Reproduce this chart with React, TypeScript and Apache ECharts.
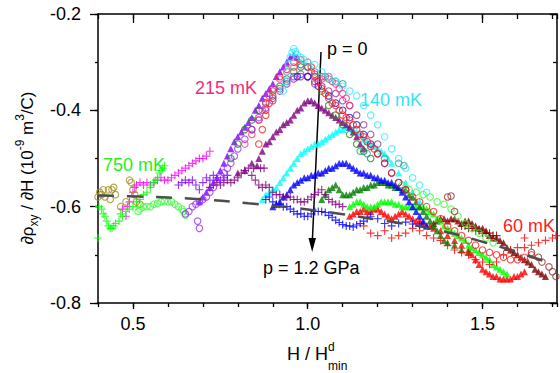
import React, { useEffect, useRef } from "react";
import * as echarts from "echarts";

// ---------- data (x = H/H^d_min, y = dρxy/dH in 1e-9 m^3/C) ----------
const xMajorTicks = [0.5, 1.0, 1.5];
const yMajorTicks = [-0.8, -0.6, -0.4, -0.2];

// filled triangles (pressure series)
const triViolet = [[0.69,-0.59],[0.70,-0.58],[0.71,-0.57],[0.72,-0.56],[0.73,-0.55],[0.74,-0.54],[0.75,-0.525],[0.76,-0.51],[0.77,-0.495],[0.78,-0.48],[0.79,-0.465],[0.80,-0.455],[0.81,-0.445],[0.82,-0.435],[0.83,-0.425],[0.84,-0.415],[0.85,-0.40],[0.86,-0.39],[0.87,-0.375],[0.88,-0.365],[0.89,-0.355],[0.90,-0.345],[0.91,-0.33],[0.92,-0.32],[0.93,-0.31],[0.94,-0.30],[0.95,-0.29],[0.96,-0.285],[0.97,-0.29]];
const triPurple = [[0.80,-0.53],[0.82,-0.525],[0.84,-0.51],[0.855,-0.515],[0.86,-0.50],[0.87,-0.485],[0.88,-0.47],[0.89,-0.465],[0.90,-0.455],[0.91,-0.445],[0.92,-0.44],[0.93,-0.43],[0.94,-0.425],[0.95,-0.42],[0.96,-0.41],[0.97,-0.40],[0.98,-0.395],[0.99,-0.385],[1.00,-0.38],[1.01,-0.38],[1.02,-0.385],[1.03,-0.39],[1.04,-0.395],[1.05,-0.40],[1.06,-0.405],[1.07,-0.41],[1.08,-0.415],[1.09,-0.42],[1.10,-0.425],[1.11,-0.43],[1.12,-0.435],[1.13,-0.445],[1.14,-0.455],[1.15,-0.47],[1.16,-0.48]];
const triCyan = [[0.87,-0.585],[0.88,-0.575],[0.89,-0.57],[0.90,-0.565],[0.91,-0.56],[0.92,-0.55],[0.93,-0.54],[0.94,-0.53],[0.95,-0.52],[0.96,-0.51],[0.97,-0.50],[0.98,-0.49],[0.99,-0.485],[1.00,-0.48],[1.01,-0.475],[1.02,-0.47],[1.03,-0.47],[1.04,-0.465],[1.05,-0.46],[1.06,-0.455],[1.07,-0.45],[1.08,-0.445],[1.09,-0.44],[1.10,-0.44],[1.11,-0.435],[1.12,-0.435],[1.13,-0.44],[1.14,-0.445],[1.15,-0.45],[1.16,-0.46],[1.17,-0.465],[1.18,-0.47],[1.19,-0.475],[1.20,-0.48],[1.21,-0.485],[1.22,-0.49],[1.23,-0.50],[1.24,-0.51],[1.26,-0.53],[1.28,-0.55],[1.30,-0.57],[1.32,-0.59]];
const triBlue = [[0.90,-0.60],[0.91,-0.595],[0.92,-0.59],[0.93,-0.58],[0.94,-0.575],[0.95,-0.565],[0.96,-0.555],[0.97,-0.55],[0.98,-0.545],[0.99,-0.54],[1.00,-0.54],[1.01,-0.535],[1.02,-0.535],[1.03,-0.53],[1.04,-0.53],[1.05,-0.525],[1.06,-0.52],[1.07,-0.52],[1.08,-0.515],[1.09,-0.51],[1.10,-0.51],[1.11,-0.51],[1.12,-0.515],[1.13,-0.52],[1.14,-0.525],[1.15,-0.53],[1.16,-0.53],[1.17,-0.535],[1.18,-0.535],[1.19,-0.54],[1.20,-0.54],[1.21,-0.545],[1.22,-0.545],[1.23,-0.55],[1.24,-0.55],[1.25,-0.555],[1.26,-0.56],[1.27,-0.57],[1.28,-0.58],[1.29,-0.59],[1.30,-0.60],[1.31,-0.61],[1.32,-0.62],[1.33,-0.63],[1.34,-0.64]];
const triDkGreen = [[1.04,-0.585],[1.05,-0.575],[1.06,-0.565],[1.07,-0.56],[1.08,-0.555],[1.09,-0.565],[1.10,-0.575],[1.11,-0.575],[1.12,-0.575],[1.13,-0.57],[1.14,-0.565],[1.15,-0.565],[1.16,-0.56],[1.17,-0.56],[1.18,-0.555],[1.19,-0.555],[1.20,-0.55],[1.21,-0.55],[1.22,-0.55],[1.23,-0.555],[1.24,-0.555],[1.25,-0.56],[1.26,-0.56],[1.27,-0.565],[1.28,-0.565],[1.29,-0.575],[1.30,-0.58],[1.31,-0.59],[1.32,-0.60],[1.33,-0.61],[1.34,-0.62],[1.35,-0.63],[1.36,-0.64],[1.37,-0.65],[1.38,-0.66],[1.39,-0.67],[1.40,-0.675],[1.42,-0.68],[1.44,-0.69],[1.46,-0.695]];
const triLime = [[1.12,-0.60],[1.13,-0.595],[1.14,-0.59],[1.15,-0.59],[1.16,-0.595],[1.17,-0.60],[1.18,-0.60],[1.19,-0.60],[1.20,-0.595],[1.21,-0.59],[1.22,-0.59],[1.23,-0.59],[1.24,-0.59],[1.25,-0.595],[1.26,-0.595],[1.27,-0.60],[1.28,-0.60],[1.29,-0.60],[1.30,-0.60],[1.31,-0.60],[1.32,-0.60],[1.33,-0.60],[1.34,-0.605],[1.35,-0.61],[1.36,-0.615],[1.37,-0.625],[1.38,-0.63],[1.39,-0.64],[1.40,-0.645],[1.41,-0.65],[1.42,-0.655],[1.43,-0.66],[1.44,-0.665],[1.45,-0.67],[1.46,-0.68],[1.47,-0.685],[1.48,-0.69],[1.49,-0.695],[1.50,-0.70],[1.51,-0.705],[1.52,-0.71],[1.53,-0.72],[1.54,-0.725],[1.55,-0.73],[1.56,-0.735],[1.57,-0.74]];
const triRed = [[1.12,-0.62],[1.13,-0.615],[1.14,-0.61],[1.15,-0.61],[1.16,-0.605],[1.17,-0.61],[1.18,-0.61],[1.19,-0.605],[1.20,-0.605],[1.21,-0.61],[1.22,-0.615],[1.23,-0.62],[1.24,-0.625],[1.25,-0.62],[1.26,-0.615],[1.27,-0.61],[1.28,-0.615],[1.29,-0.62],[1.30,-0.625],[1.31,-0.63],[1.32,-0.63],[1.33,-0.635],[1.34,-0.64],[1.35,-0.64],[1.36,-0.645],[1.38,-0.65],[1.40,-0.66],[1.42,-0.67],[1.44,-0.68],[1.46,-0.69],[1.47,-0.70],[1.48,-0.71],[1.49,-0.72],[1.50,-0.73],[1.51,-0.735],[1.52,-0.74],[1.53,-0.745],[1.54,-0.745],[1.55,-0.75],[1.56,-0.75],[1.57,-0.75],[1.58,-0.75],[1.59,-0.745],[1.60,-0.745],[1.61,-0.74],[1.62,-0.735]];
const triDkRed = [[1.36,-0.635],[1.37,-0.63],[1.38,-0.625],[1.39,-0.625],[1.40,-0.63],[1.41,-0.625],[1.42,-0.625],[1.43,-0.63],[1.44,-0.635],[1.45,-0.63],[1.46,-0.63],[1.47,-0.635],[1.48,-0.64],[1.49,-0.645],[1.50,-0.645],[1.51,-0.65],[1.52,-0.66],[1.53,-0.665],[1.54,-0.665],[1.55,-0.67],[1.56,-0.675],[1.57,-0.685],[1.58,-0.69],[1.59,-0.695],[1.60,-0.70],[1.61,-0.705],[1.62,-0.71],[1.63,-0.715],[1.64,-0.72],[1.65,-0.73],[1.66,-0.735],[1.67,-0.74],[1.68,-0.745]];

// crosses
const plusLime = [[0.40,-0.665],[0.403,-0.60],[0.41,-0.605],[0.415,-0.615],[0.42,-0.62],[0.425,-0.63],[0.43,-0.64],[0.435,-0.645],[0.44,-0.645],[0.445,-0.64],[0.45,-0.635],[0.46,-0.63],[0.465,-0.615],[0.47,-0.62],[0.48,-0.61],[0.49,-0.605],[0.50,-0.60],[0.51,-0.59],[0.52,-0.585],[0.53,-0.575],[0.54,-0.57],[0.55,-0.56],[0.56,-0.55],[0.565,-0.545],[0.57,-0.54],[0.575,-0.53],[0.58,-0.525],[0.585,-0.52],[0.59,-0.515]];
const plusMagenta = [[0.47,-0.605],[0.48,-0.62],[0.485,-0.60],[0.49,-0.59],[0.50,-0.57],[0.505,-0.56],[0.51,-0.555],[0.52,-0.55],[0.53,-0.555],[0.54,-0.55],[0.55,-0.555],[0.56,-0.55],[0.57,-0.545],[0.58,-0.54],[0.59,-0.545],[0.60,-0.545],[0.61,-0.54],[0.62,-0.535],[0.63,-0.53],[0.64,-0.525],[0.65,-0.52],[0.66,-0.515],[0.67,-0.51],[0.68,-0.505],[0.69,-0.50],[0.70,-0.50],[0.71,-0.495],[0.72,-0.485]];
const plusViolet = [[0.63,-0.555],[0.64,-0.55],[0.65,-0.545],[0.66,-0.55],[0.67,-0.545],[0.68,-0.555],[0.69,-0.565],[0.70,-0.55],[0.71,-0.54],[0.72,-0.545],[0.73,-0.535],[0.74,-0.54],[0.75,-0.545],[0.76,-0.54],[0.77,-0.535]];
const plusPurple = [[0.72,-0.56],[0.73,-0.555],[0.74,-0.55],[0.75,-0.555],[0.76,-0.55],[0.77,-0.545],[0.78,-0.55],[0.79,-0.545],[0.80,-0.54],[0.81,-0.53],[0.82,-0.525],[0.83,-0.52],[0.845,-0.52],[0.865,-0.52],[0.875,-0.52],[0.84,-0.535],[0.85,-0.545],[0.86,-0.555],[0.87,-0.56],[0.88,-0.555],[0.89,-0.56],[0.90,-0.57],[0.91,-0.575],[0.92,-0.575],[0.93,-0.58],[0.94,-0.58],[0.95,-0.58],[0.96,-0.585],[0.97,-0.585],[0.98,-0.59],[0.99,-0.59],[1.00,-0.585],[1.01,-0.58],[1.02,-0.575],[1.03,-0.57],[1.04,-0.565],[1.05,-0.575],[1.06,-0.585],[1.07,-0.59],[1.08,-0.595],[1.09,-0.595],[1.10,-0.60]];
const plusBlue = [[0.88,-0.585],[0.89,-0.58],[0.90,-0.59],[0.91,-0.595],[0.92,-0.595],[0.93,-0.60],[0.94,-0.60],[0.95,-0.605],[0.96,-0.61],[0.97,-0.615],[0.98,-0.615],[0.99,-0.62],[1.00,-0.62],[1.01,-0.615],[1.02,-0.61],[1.03,-0.61],[1.04,-0.61],[1.05,-0.612],[1.06,-0.618],[1.07,-0.622],[1.08,-0.628],[1.09,-0.633],[1.10,-0.637],[1.11,-0.64],[1.12,-0.64],[1.13,-0.642],[1.14,-0.638],[1.15,-0.635],[1.16,-0.63],[1.17,-0.625],[1.18,-0.62],[1.20,-0.625],[1.22,-0.635],[1.24,-0.64],[1.26,-0.635],[1.28,-0.632],[1.30,-0.636],[1.32,-0.638]];
const plusRed = [[1.16,-0.64],[1.18,-0.655],[1.20,-0.66],[1.22,-0.65],[1.24,-0.665],[1.26,-0.66],[1.28,-0.655],[1.30,-0.645],[1.32,-0.65],[1.34,-0.66],[1.36,-0.665],[1.38,-0.67],[1.40,-0.68],[1.42,-0.69],[1.44,-0.695],[1.46,-0.70],[1.48,-0.71],[1.50,-0.715],[1.52,-0.72],[1.54,-0.715],[1.56,-0.70],[1.58,-0.69],[1.60,-0.685],[1.62,-0.685],[1.62,-0.665],[1.64,-0.68],[1.66,-0.675],[1.68,-0.67],[1.70,-0.665],[1.71,-0.66]];
const plusDkRed = [[1.44,-0.64],[1.45,-0.64],[1.46,-0.645],[1.47,-0.645],[1.48,-0.65],[1.49,-0.65],[1.50,-0.655],[1.51,-0.655],[1.52,-0.655],[1.53,-0.66],[1.54,-0.66]];

// open circles (p = 0, several temperatures)
const circOlive = [[0.40,-0.58],[0.405,-0.57],[0.41,-0.575],[0.415,-0.565],[0.42,-0.58],[0.43,-0.565],[0.435,-0.585],[0.44,-0.565],[0.445,-0.56],[0.45,-0.575],[0.465,-0.60],[0.48,-0.59],[0.49,-0.545],[0.495,-0.55],[0.50,-0.565],[0.505,-0.575],[0.51,-0.59],[0.52,-0.595]];
const circLime = [[0.515,-0.61],[0.52,-0.605],[0.53,-0.60],[0.54,-0.60],[0.55,-0.60],[0.56,-0.595],[0.57,-0.593],[0.58,-0.59],[0.59,-0.588],[0.60,-0.59],[0.61,-0.59],[0.62,-0.595],[0.63,-0.60],[0.64,-0.605],[0.645,-0.61],[0.65,-0.617],[1.27,-0.555],[1.29,-0.565],[1.31,-0.57],[1.33,-0.575],[1.35,-0.58],[1.37,-0.59],[1.39,-0.595],[1.41,-0.605],[1.43,-0.62],[1.45,-0.635],[1.47,-0.645],[1.49,-0.655],[1.51,-0.665],[1.53,-0.675]];
const circViolet = [[0.65,-0.615],[0.66,-0.61],[0.67,-0.60],[0.68,-0.595],[0.685,-0.63],[0.69,-0.645],[0.69,-0.59],[0.70,-0.585],[0.71,-0.58],[0.72,-0.57],[0.73,-0.56],[0.74,-0.55],[0.75,-0.54],[0.76,-0.53],[0.77,-0.52],[0.78,-0.51],[0.79,-0.495],[0.80,-0.48],[0.82,-0.46],[0.84,-0.44],[0.86,-0.415],[0.88,-0.395],[0.90,-0.375],[0.92,-0.355],[0.94,-0.34],[0.96,-0.33],[0.98,-0.325],[1.00,-0.33],[1.02,-0.345]];
const circDkGreen = [[0.78,-0.50],[0.80,-0.47],[0.82,-0.44],[0.84,-0.42],[0.86,-0.40],[0.88,-0.385],[0.90,-0.37],[0.92,-0.35],[0.94,-0.335],[0.96,-0.32],[0.98,-0.31],[1.00,-0.31],[1.02,-0.33],[1.04,-0.36],[1.06,-0.39],[1.08,-0.41],[1.10,-0.43],[1.12,-0.45],[1.14,-0.47],[1.16,-0.485],[1.18,-0.50]];
const circPurple = [[0.84,-0.44],[0.86,-0.42],[0.88,-0.40],[0.90,-0.38],[0.92,-0.36],[0.94,-0.345],[0.96,-0.335],[0.98,-0.33],[1.00,-0.33],[1.02,-0.34],[1.04,-0.35],[1.06,-0.36],[1.08,-0.365],[1.10,-0.38],[1.12,-0.39],[1.14,-0.41],[1.16,-0.43],[1.18,-0.45],[1.20,-0.47]];
const circPink = [[0.82,-0.47],[0.84,-0.45],[0.86,-0.42],[0.87,-0.40],[0.88,-0.385],[0.89,-0.37],[0.90,-0.355],[0.92,-0.335],[0.94,-0.32],[0.96,-0.31],[0.98,-0.305],[1.00,-0.31],[1.01,-0.32],[1.02,-0.33],[1.03,-0.34],[1.04,-0.335],[1.05,-0.33],[1.06,-0.33],[1.07,-0.34],[1.08,-0.345],[1.09,-0.355],[1.10,-0.365],[1.11,-0.375],[1.12,-0.39]];
const circBlue = [[0.97,-0.33],[1.00,-0.33],[1.03,-0.35],[1.06,-0.37],[1.08,-0.385],[1.10,-0.40],[1.12,-0.415],[1.14,-0.43],[1.16,-0.45],[1.18,-0.47],[1.20,-0.49],[1.22,-0.51],[1.24,-0.53],[1.26,-0.55],[1.28,-0.565]];
const circTeal = [[0.98,-0.305],[1.00,-0.31],[1.02,-0.32],[1.04,-0.33],[1.06,-0.335],[1.08,-0.34],[1.10,-0.345],[1.15,-0.485],[1.17,-0.49],[1.22,-0.50],[1.26,-0.51],[1.275,-0.515]];
const circRed = [[0.86,-0.47],[0.87,-0.44],[0.88,-0.41],[0.89,-0.385],[0.90,-0.36],[0.92,-0.33],[0.94,-0.315],[0.96,-0.30],[0.98,-0.295],[1.00,-0.30],[1.01,-0.31],[1.02,-0.325],[1.03,-0.34],[1.04,-0.355],[1.05,-0.365],[1.06,-0.375],[1.07,-0.385],[1.08,-0.39],[1.09,-0.40],[1.10,-0.41],[1.11,-0.415],[1.12,-0.42],[1.13,-0.43],[1.14,-0.44],[1.15,-0.45],[1.16,-0.455],[1.17,-0.465],[1.18,-0.475],[1.19,-0.48],[1.20,-0.49],[1.22,-0.51],[1.24,-0.53],[1.26,-0.55],[1.28,-0.565],[1.30,-0.58],[1.32,-0.59],[1.34,-0.60],[1.36,-0.61],[1.38,-0.625],[1.40,-0.64],[1.42,-0.65],[1.44,-0.66],[1.46,-0.67],[1.48,-0.68],[1.50,-0.69],[1.52,-0.695],[1.54,-0.70],[1.56,-0.705],[1.58,-0.71],[1.60,-0.71],[1.62,-0.705],[1.64,-0.70]];
const circCyan = [[0.93,-0.36],[0.935,-0.34],[0.94,-0.32],[0.945,-0.305],[0.95,-0.29],[0.955,-0.28],[0.96,-0.272],[0.965,-0.278],[0.97,-0.285],[0.98,-0.29],[0.99,-0.295],[1.00,-0.30],[1.02,-0.305],[1.04,-0.32],[1.06,-0.33],[1.08,-0.34],[1.10,-0.35],[1.12,-0.36],[1.14,-0.37],[1.16,-0.39],[1.18,-0.41],[1.20,-0.43],[1.22,-0.455],[1.24,-0.48],[1.26,-0.50],[1.28,-0.52],[1.30,-0.54],[1.32,-0.555],[1.34,-0.57]];
const circDkRed = [[1.40,-0.58],[1.41,-0.578],[1.42,-0.61],[1.64,-0.695],[1.66,-0.705],[1.67,-0.715],[1.69,-0.725],[1.70,-0.735],[1.71,-0.745]];

// dashed background curve
const dashedCurve = [[0.40,-0.577],[0.52,-0.579],[0.68,-0.584],[0.83,-0.593],[1.00,-0.606],[1.20,-0.627],[1.38,-0.650],[1.51,-0.675],[1.58,-0.690],[1.68,-0.714]];

const FONT = "'Liberation Sans', Arial, sans-serif";
const PLUS = "path://M4.3,0H5.7V4.3H10V5.7H5.7V10H4.3V5.7H0V4.3H4.3Z";

const tri = (data: number[][], color: string) => ({
  type: "scatter", data, symbol: "triangle", symbolSize: 7,
  itemStyle: { color }, silent: true,
});
const plus = (data: number[][], color: string) => ({
  type: "scatter", data, symbol: PLUS, symbolSize: 8,
  itemStyle: { color }, silent: true,
});
const circ = (data: number[][], color: string) => ({
  type: "scatter", data, symbol: "circle", symbolSize: 6.5,
  itemStyle: { color: "rgba(0,0,0,0)", borderColor: color, borderWidth: 1.1 }, silent: true,
});

const isMajor = (v: number, step: number) => Math.abs(v / step - Math.round(v / step)) < 1e-6;

export default function App() {
  const ref = useRef<HTMLDivElement>(null);
  useEffect(() => {
    if (!ref.current) return;
    const chart = echarts.init(ref.current, null, { renderer: "svg" });
    const xMin = 0.4, xMax = 1.713, yMin = -0.8, yMax = -0.2;
    const axisLine = { show: true, lineStyle: { color: "#000", width: 1.5 } };
    const tickStyle = { color: "#000", width: 1.3 };
    const small = { fontSize: 12, fontFamily: FONT, fill: "#000" };
    const option: any = {
      animation: false,
      backgroundColor: "#fff",
      grid: { left: 98, top: 14, right: 1, bottom: 70 },
      xAxis: [
        {
          type: "value", position: "bottom", min: xMin, max: xMax, interval: 0.1,
          axisLine, splitLine: { show: false },
          axisTick: { inside: false, length: 4, lineStyle: tickStyle },
          axisLabel: {
            fontSize: 18, fontFamily: FONT, color: "#000", margin: 12,
            formatter: (v: number) => (isMajor(v, 0.5) ? v.toFixed(1) : ""),
          },
        },
        {
          type: "value", position: "bottom", min: xMin, max: xMax,
          axisLine: { show: false }, splitLine: { show: false }, axisLabel: { show: false },
          axisTick: { show: true, inside: false, length: 6, lineStyle: tickStyle, customValues: xMajorTicks },
        },
        {
          type: "value", position: "top", min: xMin, max: xMax, interval: 0.1,
          axisLine, splitLine: { show: false }, axisLabel: { show: false },
          axisTick: { inside: true, length: 5, lineStyle: tickStyle },
        },
        {
          type: "value", position: "top", min: xMin, max: xMax,
          axisLine: { show: false }, splitLine: { show: false }, axisLabel: { show: false },
          axisTick: { show: true, inside: true, length: 9, lineStyle: tickStyle, customValues: xMajorTicks },
        },
      ],
      yAxis: [
        {
          type: "value", position: "left", min: yMin, max: yMax, interval: 0.1,
          axisLine, splitLine: { show: false },
          axisTick: { inside: false, length: 3, lineStyle: tickStyle },
          axisLabel: {
            fontSize: 18, fontFamily: FONT, color: "#000", margin: 17,
            formatter: (v: number) => (isMajor(v, 0.2) ? v.toFixed(1) : ""),
          },
        },
        {
          type: "value", position: "left", min: yMin, max: yMax,
          axisLine: { show: false }, splitLine: { show: false }, axisLabel: { show: false },
          axisTick: { show: true, inside: false, length: 8, lineStyle: tickStyle, customValues: yMajorTicks },
        },
        {
          type: "value", position: "right", min: yMin, max: yMax, interval: 0.1,
          axisLine, splitLine: { show: false }, axisLabel: { show: false },
          axisTick: { inside: true, length: 4, lineStyle: tickStyle },
        },
        {
          type: "value", position: "right", min: yMin, max: yMax,
          axisLine: { show: false }, splitLine: { show: false }, axisLabel: { show: false },
          axisTick: { show: true, inside: true, length: 7, lineStyle: tickStyle, customValues: yMajorTicks },
        },
      ],
      series: [
        tri(triDkRed, "#800000"),
        tri(triRed, "#ff0000"),
        tri(triLime, "#00ff00"),
        tri(triDkGreen, "#008000"),
        tri(triBlue, "#0000ff"),
        tri(triCyan, "#00ffff"),
        tri(triPurple, "#800080"),
        tri(triViolet, "#8000ff"),
        plus(plusDkRed, "#800000"),
        plus(plusRed, "#ff0000"),
        plus(plusBlue, "#0000ff"),
        plus(plusPurple, "#800080"),
        plus(plusViolet, "#8000ff"),
        plus(plusMagenta, "#ff00ff"),
        plus(plusLime, "#00ff00"),
        circ(circOlive, "#a09020"),
        circ(circLime, "#33ff33"),
        circ(circViolet, "#9933ff"),
        circ(circDkGreen, "#1a8c1a"),
        circ(circPurple, "#993399"),
        circ(circPink, "#ff3385"),
        circ(circBlue, "#1a1acc"),
        circ(circTeal, "#339999"),
        circ(circRed, "#ff2020"),
        circ(circCyan, "#2af0ff"),
        circ(circDkRed, "#993333"),
        {
          type: "line", data: dashedCurve, smooth: true, symbol: "none", silent: true,
          lineStyle: { color: "#4d4d4d", width: 2.5, type: [16, 13] },
        },
      ],
      graphic: [
        // axis titles
        {
          type: "text", x: 27, y: 168, rotation: Math.PI / 2,
          style: {
            text: "∂ρ{sub|xy} / ∂H (10{sup|-9} m{sup|3}/C)",
            font: `17px ${FONT}`, fill: "#000", align: "center", verticalAlign: "middle", lineHeight: 26,
            rich: {
              sub: { ...small, verticalAlign: "bottom" },
              sup: { ...small, verticalAlign: "top" },
            },
          },
        },
        { type: "text", x: 287, y: 354, style: { text: "H / H", fill: "#000", font: `18px ${FONT}`, verticalAlign: "middle" } },
        { type: "text", x: 328, y: 347, style: { text: "d", fill: "#000", font: `12px ${FONT}`, verticalAlign: "middle" } },
        { type: "text", x: 328, y: 366, style: { text: "min", fill: "#000", font: `12px ${FONT}`, verticalAlign: "middle" } },
        // annotations
        { type: "text", x: 195, y: 88, style: { text: "215 mK", fill: "#f02d7d", font: `18px ${FONT}`, verticalAlign: "middle" } },
        { type: "text", x: 360, y: 100, style: { text: "140 mK", fill: "#2ee6f5", font: `18px ${FONT}`, verticalAlign: "middle" } },
        { type: "text", x: 103, y: 165, style: { text: "750 mK", fill: "#22ee22", font: `18px ${FONT}`, verticalAlign: "middle" } },
        { type: "text", x: 503, y: 226, style: { text: "60 mK", fill: "#ff2020", font: `18px ${FONT}`, verticalAlign: "middle" } },
        { type: "text", x: 327, y: 49, style: { text: "p = 0", fill: "#000", font: `18px ${FONT}`, verticalAlign: "middle" } },
        { type: "text", x: 263, y: 268, style: { text: "p = 1.2 GPa", fill: "#000", font: `18px ${FONT}`, verticalAlign: "middle" } },
        { type: "line", shape: { x1: 321, y1: 52, x2: 312.3, y2: 242 }, style: { stroke: "#000", lineWidth: 1.5 } },
        { type: "polygon", shape: { points: [[308.5, 238], [316, 238], [312.2, 252]] }, style: { fill: "#000" } },
      ],
    };
    chart.setOption(option);
    return () => chart.dispose();
  }, []);
  return (
    <div
      ref={ref}
      style={{ position: "fixed", left: 0, top: 0, width: 560, height: 373, background: "#fff" }}
    />
  );
}
